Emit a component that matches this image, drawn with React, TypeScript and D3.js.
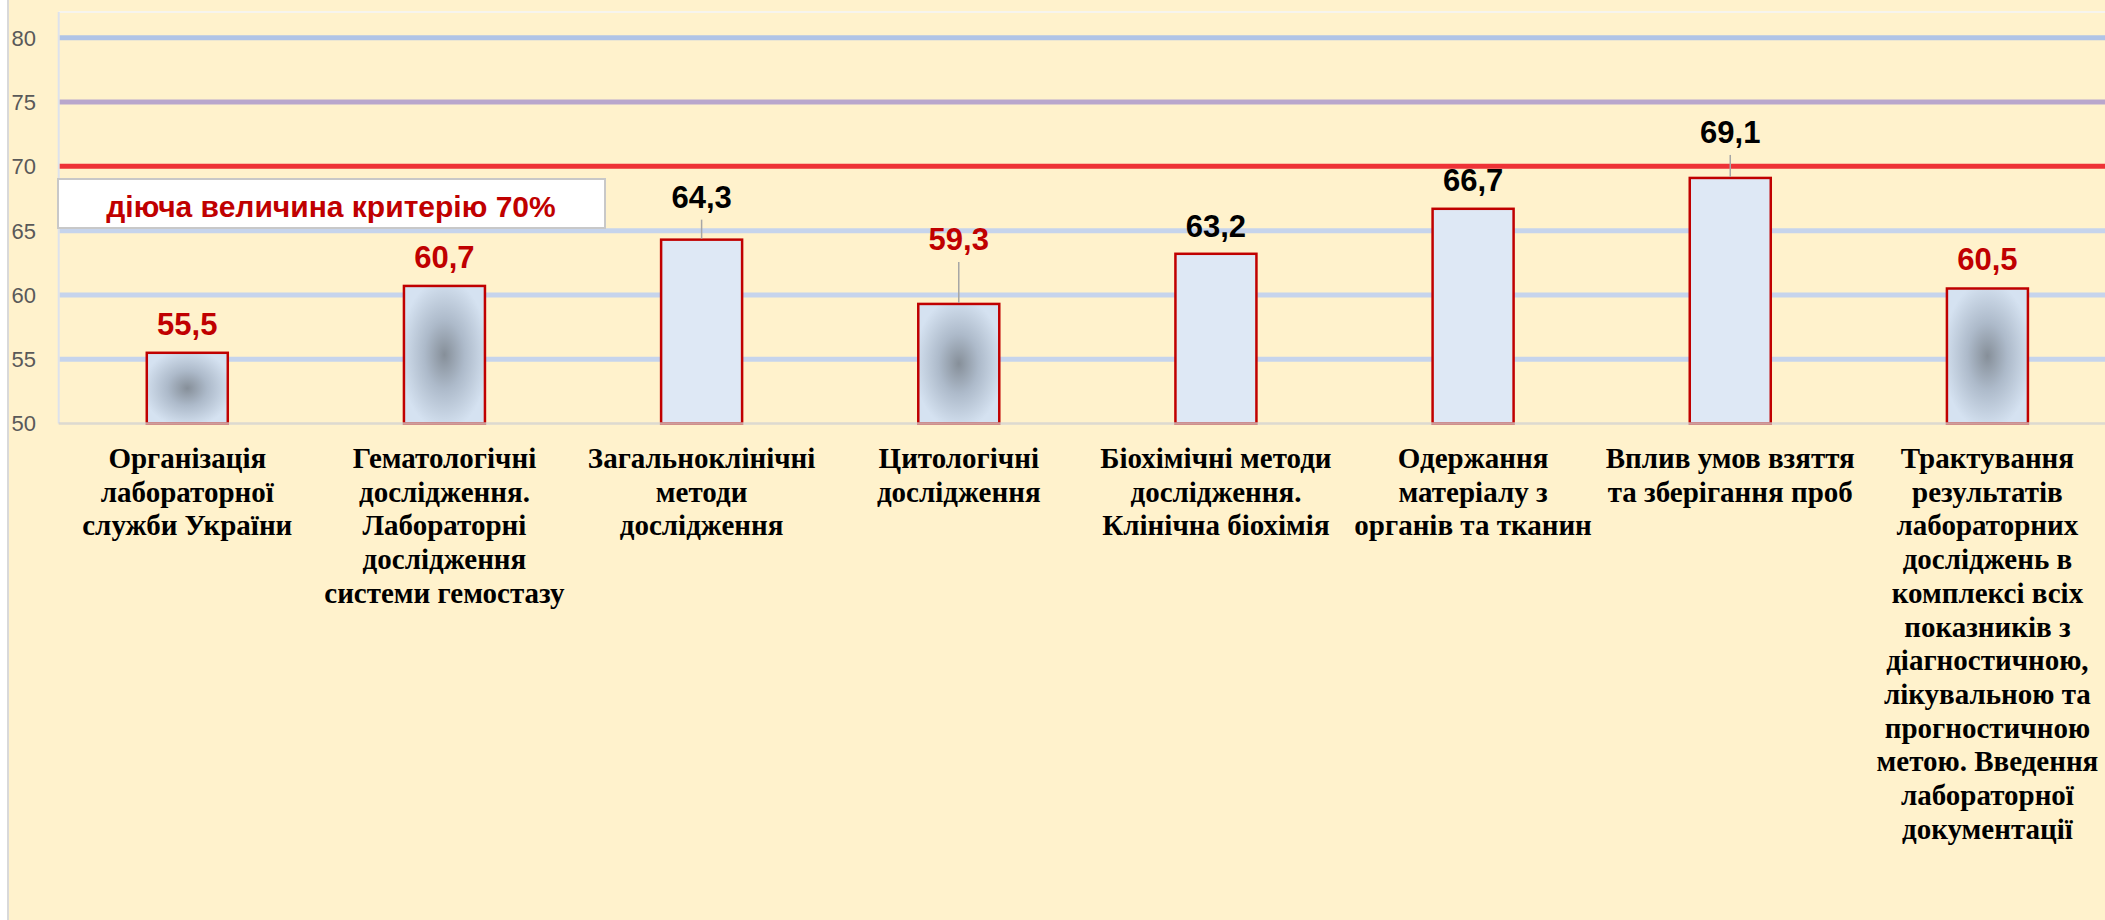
import { useEffect } from 'react';
import * as d3 from 'd3';

// categories, each split into the lines shown under the axis
const categories = [
  ['Організація', 'лабораторної', 'служби України'],
  ['Гематологічні', 'дослідження.', 'Лабораторні', 'дослідження', 'системи гемостазу'],
  ['Загальноклінічні', 'методи', 'дослідження'],
  ['Цитологічні', 'дослідження'],
  ['Біохімічні методи', 'дослідження.', 'Клінічна біохімія'],
  ['Одержання', 'матеріалу з', 'органів та тканин'],
  ['Вплив умов взяття', 'та зберігання проб'],
  ['Трактування', 'результатів', 'лабораторних', 'досліджень в', 'комплексі всіх',
    'показників з', 'діагностичною,', 'лікувальною та', 'прогностичною',
    'метою. Введення', 'лабораторної', 'документації'],
];

const values = [55.5, 60.7, 64.3, 59.3, 63.2, 66.7, 69.1, 60.5];

// bars that are flagged (red label, shaded fill)
const flagged = [true, true, false, true, false, false, false, true];

const yTicks = [50, 55, 60, 65, 70, 75, 80];

const criterionText = 'діюча величина критерію 70%';

// distance between label baseline and bar top (labels moved by hand in the original)
const labelGap = [18, 18, 32, 54, 17, 18, 35, 19];

const gridColor: Record<number, string> = {
  55: '#C6D4EC',
  60: '#C6D4EC',
  65: '#C6D4EC',
  70: '#EE3236',
  75: '#B9A7CC',
  80: '#B0C4E6',
};

export default function App() {
  useEffect(() => {
    document.body.style.margin = '0';
  }, []);

  const width = 2105;
  const height = 920;
  const plotLeft = 58.7;
  const plotRight = 2116;
  const plotTop = 12;

  const keys = categories.map((_, i) => String(i));

  const x = d3.scaleBand<string>()
    .domain(keys)
    .range([plotLeft, plotRight])
    .paddingInner(0.685)
    .paddingOuter(0.3425);

  const y = d3.scaleLinear()
    .domain([50, 80])
    .range([423.5, 37.8]);

  const fmt = (v: number) => v.toFixed(1).replace('.', ',');

  return (
    <svg width={width} height={height} style={{ position: 'absolute', left: 0, top: 0, display: 'block' }}>
      <defs>
        <radialGradient id="shade" cx="0.5" cy="0.5" r="0.55">
          <stop offset="0" stopColor="#868F99" />
          <stop offset="0.45" stopColor="#ADBACA" />
          <stop offset="1" stopColor="#D5E2F1" />
        </radialGradient>
      </defs>

      {/* background */}
      <rect x={0} y={0} width={width} height={height} fill="#FFF2CC" />
      <rect x={0} y={0} width={7} height={height} fill="#FFFFFF" />
      <line x1={8} x2={8} y1={0} y2={height} stroke="#D9D9D9" strokeWidth={2} />

      {/* plot area border */}
      <line x1={plotLeft} x2={width} y1={plotTop} y2={plotTop} stroke="#F6F4EE" strokeWidth={2} />
      <line x1={plotLeft} x2={plotLeft} y1={plotTop} y2={y(50)} stroke="#DDE2EC" strokeWidth={2} />

      {/* gridlines */}
      {yTicks.filter(t => t > 50).map(t => (
        <line key={t} x1={plotLeft + 1} x2={width} y1={y(t)} y2={y(t)}
          stroke={gridColor[t]} strokeWidth={5} />
      ))}

      {/* y tick labels */}
      {yTicks.map(t => (
        <text key={t} x={36} y={y(t)} dy="0.36em" textAnchor="end"
          fontFamily="'Liberation Sans', Arial, sans-serif" fontSize={22} fill="#595959">
          {t}
        </text>
      ))}

      {/* bars */}
      {values.map((v, i) => (
        <rect key={i}
          x={x(keys[i])!} y={y(v)}
          width={x.bandwidth()} height={y(50) - y(v)}
          fill={flagged[i] ? 'url(#shade)' : '#DEE8F5'}
          stroke="#C00000" strokeWidth={2.5} />
      ))}

      {/* baseline */}
      <line x1={plotLeft} x2={width} y1={y(50)} y2={y(50)} stroke="#D2D2D2" strokeOpacity={0.75} strokeWidth={2.5} />

      {/* leader lines and data labels */}
      {values.map((v, i) => {
        const cx = x(keys[i])! + x.bandwidth() / 2;
        const base = y(v) - labelGap[i];
        return (
          <g key={i}>
            {labelGap[i] > 25 && (
              <line x1={cx} x2={cx} y1={base + 12} y2={y(v) - 1}
                stroke="#A6A6A6" strokeWidth={1.5} />
            )}
            <text x={cx} y={base} textAnchor="middle"
              fontFamily="'Liberation Sans', Arial, sans-serif" fontWeight="bold" fontSize={31}
              fill={flagged[i] ? '#C00000' : '#000000'}>
              {fmt(v)}
            </text>
          </g>
        );
      })}

      {/* category labels */}
      {categories.map((lines, i) => {
        const cx = x(keys[i])! + x.bandwidth() / 2;
        return (
          <text key={i} textAnchor="middle"
            fontFamily="'Liberation Serif', 'Times New Roman', serif" fontWeight="bold" fontSize={29} fill="#000000">
            {lines.map((ln, j) => (
              <tspan key={j} x={cx} y={468 + j * 33.7}>{ln}</tspan>
            ))}
          </text>
        );
      })}

      {/* criterion box */}
      <rect x={58} y={179} width={547} height={49} fill="#FFFFFF" stroke="#C8C8C8" strokeWidth={2} />
      <text x={331} y={217} textAnchor="middle"
        fontFamily="'Liberation Sans', Arial, sans-serif" fontWeight="bold" fontSize={30} fill="#C00000">
        {criterionText}
      </text>
    </svg>
  );
}
